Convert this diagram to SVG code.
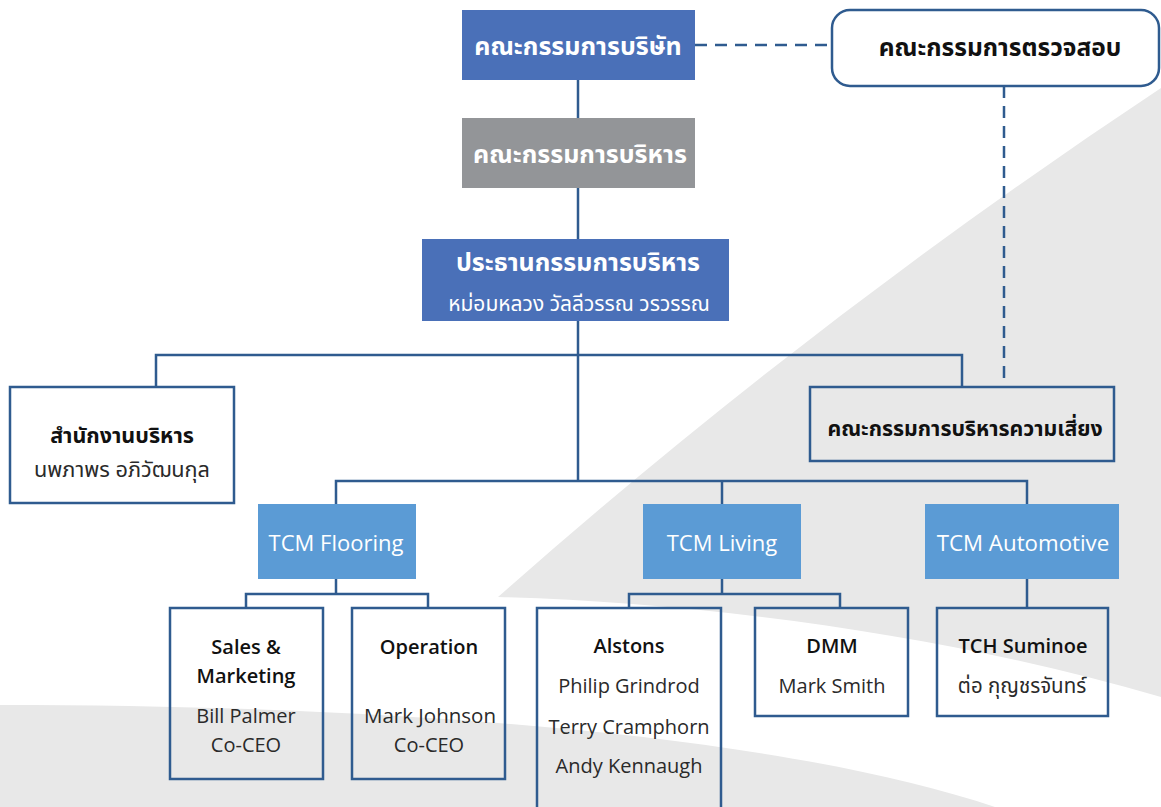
<svg xmlns="http://www.w3.org/2000/svg" width="1161" height="807" viewBox="0 0 1161 807">
<style>
.bg{fill:#e8e8e8;stroke:none}
.ln{fill:none;stroke:#2f5b8f;stroke-width:2.5}
.dash{fill:none;stroke:#2f5b8f;stroke-width:2.5;stroke-dasharray:12 8}
.box{fill:none;stroke:#2f5b8f;stroke-width:2.5}
.dblue{fill:#4a70b8}
.gray{fill:#939598}
.lblue{fill:#5b9bd5}
.th{font-family:"Noto Sans Thai","Noto Sans","Open Sans",sans-serif;text-anchor:middle}
.en{font-family:"Open Sans","Noto Sans",sans-serif;text-anchor:middle}
.w{fill:#ffffff}
.k{fill:#111111}
.n{fill:#2a2a2a}
.b{font-weight:bold}
.sb{font-weight:600}
</style>
<g id="background">
<path class="bg" d="M1161,88 Q811,320 498,597 C700,602 950,635 1161,697 Z"/>
<path class="bg" d="M0,705 C400,705 780,735 995,807 L0,807 Z"/>
</g>
<g id="connectors">
<line class="dash" x1="695" y1="45" x2="832" y2="45"/>
<line class="dash" x1="1004" y1="86" x2="1004" y2="387"/>
<line class="ln" x1="578" y1="80" x2="578" y2="118"/>
<line class="ln" x1="578" y1="188" x2="578" y2="239"/>
<line class="ln" x1="578" y1="321" x2="578" y2="481"/>
<polyline class="ln" points="156,387 156,355 962,355 962,387"/>
<polyline class="ln" points="336,504 336,481 1027,481 1027,504"/>
<line class="ln" x1="722" y1="481" x2="722" y2="504"/>
<polyline class="ln" points="246,608 246,594 428,594 428,608"/>
<line class="ln" x1="336" y1="579" x2="336" y2="594"/>
<polyline class="ln" points="629,608 629,594 840,594 840,608"/>
<line class="ln" x1="722" y1="579" x2="722" y2="594"/>
<line class="ln" x1="1027" y1="579" x2="1027" y2="608"/>
</g>
<g id="board">
<rect class="dblue" x="462" y="10" width="233" height="70"/>
<text class="th w b" x="578" y="55" font-size="25">คณะกรรมการบริษัท</text>
</g>
<g id="audit">
<rect x="832" y="10" width="327" height="76" rx="18" ry="18" fill="#ffffff" stroke="#2f5b8f" stroke-width="2.5"/>
<text class="th k b" x="1000" y="56" font-size="24.5">คณะกรรมการตรวจสอบ</text>
</g>
<g id="exec-committee">
<rect class="gray" x="462" y="118" width="233" height="70"/>
<text class="th w b" x="580" y="163" font-size="25">คณะกรรมการบริหาร</text>
</g>
<g id="chairman">
<rect class="dblue" x="422" y="239" width="307" height="82"/>
<text class="th w b" x="578" y="271" font-size="25">ประธานกรรมการบริหาร</text>
<text class="th w" x="579" y="311" font-size="21">หม่อมหลวง วัลลีวรรณ วรวรรณ</text>
</g>
<g id="exec-office">
<rect class="box" x="10" y="387" width="224" height="116"/>
<text class="th k b" x="122" y="443" font-size="21.5">สำนักงานบริหาร</text>
<text class="th n" x="122" y="477" font-size="21.7">นพภาพร อภิวัฒนกุล</text>
</g>
<g id="risk">
<rect class="box" x="810" y="387" width="304" height="74"/>
<text class="th k b" x="965" y="436" font-size="21.3">คณะกรรมการบริหารความเสี่ยง</text>
</g>
<g id="tcm-flooring">
<rect class="lblue" x="258" y="504" width="158" height="75"/>
<text class="en w" x="336" y="551" font-size="22">TCM Flooring</text>
</g>
<g id="tcm-living">
<rect class="lblue" x="643" y="504" width="158" height="75"/>
<text class="en w" x="722" y="551" font-size="22">TCM Living</text>
</g>
<g id="tcm-automotive">
<rect class="lblue" x="925" y="504" width="194" height="75"/>
<text class="en w" x="1023" y="551" font-size="22.3">TCM Automotive</text>
</g>
<g id="sales">
<rect class="box" x="170" y="608" width="153" height="171"/>
<text class="en k sb" x="246" y="654" font-size="20">Sales &amp;</text>
<text class="en k sb" x="246" y="683" font-size="20">Marketing</text>
<text class="en n" x="246" y="723" font-size="20">Bill Palmer</text>
<text class="en n" x="246" y="752" font-size="20">Co-CEO</text>
</g>
<g id="operation">
<rect class="box" x="352" y="608" width="153" height="171"/>
<text class="en k sb" x="429" y="654" font-size="20">Operation</text>
<text class="en n" x="430" y="723" font-size="20.5">Mark Johnson</text>
<text class="en n" x="429" y="752" font-size="20">Co-CEO</text>
</g>
<g id="alstons">
<rect class="box" x="537" y="608" width="184" height="210"/>
<text class="en k sb" x="629" y="653" font-size="20">Alstons</text>
<text class="en n" x="629" y="693" font-size="20">Philip Grindrod</text>
<text class="en n" x="629" y="734" font-size="20">Terry Cramphorn</text>
<text class="en n" x="629" y="773" font-size="20">Andy Kennaugh</text>
</g>
<g id="dmm">
<rect class="box" x="755" y="608" width="153" height="108"/>
<text class="en k sb" x="832" y="653" font-size="20">DMM</text>
<text class="en n" x="832" y="693" font-size="20">Mark Smith</text>
</g>
<g id="tch-suminoe">
<rect class="box" x="937" y="608" width="171" height="108"/>
<text class="en k sb" x="1023" y="653" font-size="20">TCH Suminoe</text>
<text class="th n" x="1022" y="693" font-size="20.5">ต่อ กุญชรจันทร์</text>
</g>
</svg>
